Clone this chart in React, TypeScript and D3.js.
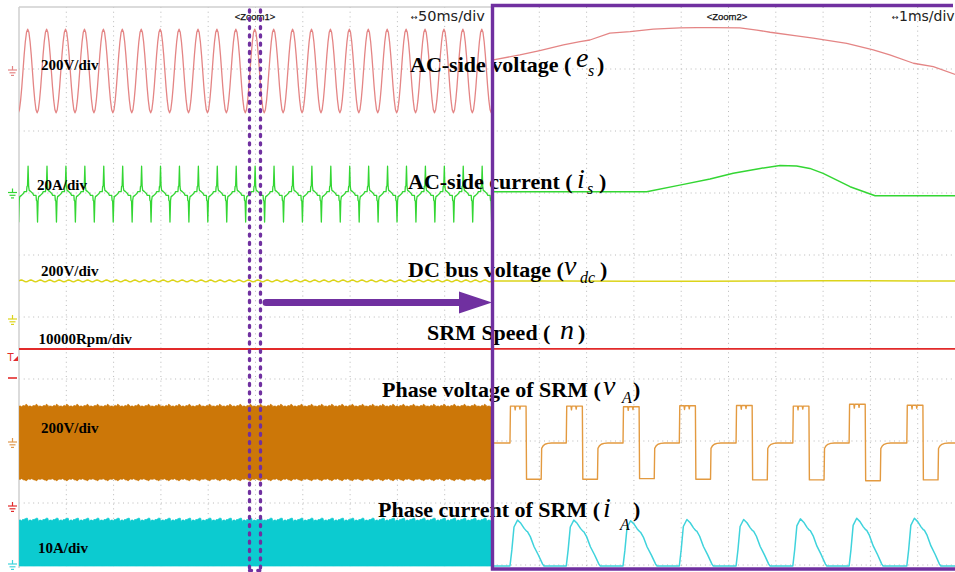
import React from "react";
import * as d3 from "d3";

type Pt = [number, number];

// ---- scope screen geometry ----
const W = 955;
const H = 572;
const DIV_X = 47.3;
const DIV_Y = 62;
const SCREEN_LEFT = 19;
const SCREEN_TOP = 7;
const SPLIT_X = 492;

// ---- main window, 50 ms/div ----
// AC-side voltage e_s, one 20 ms mains cycle from the rising zero crossing (V)
const mainsCycleT = [0, 1.25, 2.5, 3.75, 5, 6.25, 7.5, 8.75, 10, 11.25, 12.5, 13.75, 15, 16.25, 17.5, 18.75];
const acVoltCycle = [0, 52, 95, 125, 135, 125, 95, 52, 0, -52, -95, -125, -135, -125, -95, -52];
// AC-side current i_s over the same cycle (A)
const acCurrCycleT = [0, 1, 3.4, 3.8, 4.4, 5, 5.6, 6.2, 8, 10, 11, 13.4, 13.8, 14.4, 15, 15.6, 16.2, 18];
const acCurrCycle = [0, 0.6, 0.6, 2.2, 2.5, 8.8, 2.2, 1.0, 0.6, 0, -0.6, -0.6, -2.2, -2.5, -9.2, -2.2, -1.0, -0.6];
// DC bus ripple, one 10 ms cycle (V)
const dcRippleT = [0, 1.25, 2.5, 3.75, 5, 6.25, 7.5, 8.75];
const dcRipple = [126, 128, 129, 128, 126, 124, 123, 124];
// SRM speed (rpm)
const speedRpm = 25500;

// ---- zoom window, 1 ms/div ----
const zoomEsT = [0, 0.59, 1.01, 1.51, 1.86, 2.07, 2.49, 2.92, 3.41, 3.97, 4.33, 4.68, 5.24, 5.6, 5.88, 6.44, 6.79, 7.5, 8.06, 8.41, 8.91, 9.33, 9.85];
const zoomEs = [35, 52, 66, 84, 95, 100, 122, 127, 135, 139, 140, 140, 139, 132, 125, 113, 106, 89, 68, 52, 25, 14, -14];
const zoomIsT = [0, 3.27, 3.97, 4.61, 5.1, 5.67, 6.09, 6.44, 6.72, 7.0, 7.57, 8.1, 9.85];
const zoomIs = [0.6, 0.6, 2.7, 4.7, 6.5, 8.1, 9.0, 8.9, 8.1, 6.5, 2.2, -0.7, -0.7];
const zoomVdcT = [0, 1.5, 3, 4.5, 6, 7, 8, 9, 9.85];
const zoomVdc = [126, 126, 125, 125, 126, 127, 127, 126, 126];

// SRM phase A: pulse train
const srmPeriod = 1.197; // ms
const pulseStarts = [0.38, 1.57, 2.77, 3.96, 5.16, 6.36, 7.55, 8.77];
const phaseVoltHigh = [119, 119, 117, 120, 121, 119, 125, 122, 118];
const phaseVoltLow = [-117, -117, -115, -117, -119, -119, -122, -119, -116];
const pulsePeaks = [7.4, 7.4, 7.3, 7.5, 7.5, 7.6, 7.7, 7.7, 7.2];
// v_A after turn-on (ms, fraction of high level (+) / low level (-))
const vAShapeT = [0, 0.01, 0.1, 0.11, 0.12, 0.2, 0.21, 0.22, 0.34, 0.35, 0.66, 0.67, 0.7, 0.74, 0.8, 0.88];
const vAShape = [0, 1, 1, 0.9, 1, 1, 0.92, 1, 1, -1, -1, -0.15, -0.08, -0.035, -0.01, 0];
// i_A after turn-on (ms, fraction of pulse peak)
const iAShapeT = [0, 0.04, 0.085, 0.16, 0.23, 0.3, 0.35, 0.37, 0.43, 0.51, 0.6, 0.69, 0.72];
const iAShape = [0, 0.35, 0.85, 1, 0.93, 0.82, 0.76, 0.75, 0.64, 0.42, 0.24, 0.04, 0];

// channel settings: units per div and the ground marker level on screen
const channels = {
  es: { perDiv: 200, ground: 71, color: "#e48585" },
  is: { perDiv: 20, ground: 193.5, color: "#33d633" },
  vdc: { perDiv: 200, ground: 320, color: "#dcd41a" },
  n: { perDiv: 10000, ground: 507, color: "#e22a2a" },
  vA: { perDiv: 200, ground: 443, color: "#cc7708" },
  iA: { perDiv: 10, ground: 566, color: "#0ccbd0" },
};

// repeat one cycle of read samples over a time span
function tile(offs: number[], vals: number[], period: number, start: number, end: number): Pt[] {
  const pts: Pt[] = [];
  for (let t0 = start; t0 < end; t0 += period) {
    offs.forEach((o, j) => pts.push([t0 + o, vals[j]]));
  }
  return pts;
}

const zip = (t: number[], v: number[]): Pt[] => t.map((d, i) => [d, v[i]]);

function vAValue(i: number, f: number) {
  const k = i % phaseVoltHigh.length;
  return f >= 0 ? f * phaseVoltHigh[k] : -f * phaseVoltLow[k];
}

function GroundMark({ y, color }: { y: number; color: string }) {
  return (
    <g stroke={color} strokeWidth={1.2}>
      <line x1={12.5} x2={12.5} y1={y - 5} y2={y - 1} />
      <line x1={8} x2={17} y1={y - 1} y2={y - 1} />
      <line x1={9.5} x2={15.5} y1={y + 1.8} y2={y + 1.8} />
      <line x1={11} x2={14} y1={y + 4.4} y2={y + 4.4} />
    </g>
  );
}

function Label({ x, y, text, sym, symX, symY, sub, subX, subY, closeX }: any) {
  return (
    <g fill="#000" fontFamily="'Liberation Serif', 'Times New Roman', serif">
      <text x={x} y={y} fontSize={22} fontWeight="bold">{text}</text>
      <text x={symX} y={symY} fontSize={28} fontStyle="italic">{sym}</text>
      {sub && <text x={subX} y={subY} fontSize={16} fontStyle="italic">{sub}</text>}
      <text x={closeX} y={y} fontSize={22} fontWeight="bold">)</text>
    </g>
  );
}

export default function App() {
  const xMain = d3.scaleLinear().domain([0, 500]).range([SCREEN_LEFT, SPLIT_X]);
  const xZoom = d3.scaleLinear().domain([0, 10]).range([SPLIT_X, SPLIT_X + 10 * DIV_X]);
  const yScale = (c: { perDiv: number; ground: number }) =>
    d3.scaleLinear().domain([0, c.perDiv]).range([c.ground, c.ground - DIV_Y]);

  const path = (pts: Pt[], x: d3.ScaleLinear<number, number>, c: any) => {
    const y = yScale(c);
    return d3.line<Pt>().x((d) => x(d[0])).y((d) => y(d[1]))(pts) || "";
  };

  // main window traces
  const mainEs = tile(mainsCycleT, acVoltCycle, 20, 4.2 - 20, 520);
  const mainIs = tile(acCurrCycleT, acCurrCycle, 20, 4.6 - 20, 520);
  const mainVdc = tile(dcRippleT, dcRipple, 10, 0, 510);
  const mainN: Pt[] = [[0, speedRpm], [500, speedRpm]];

  // at 50 ms/div the SRM pulses merge into a band: its envelope, cycle by cycle
  const cycles = d3.range(0, Math.ceil(502 / srmPeriod));
  const envPts = cycles.flatMap((i) => [0.15, 0.55].map((o) => ({ t: i * srmPeriod + o, i })));
  const yVA = yScale(channels.vA);
  const yIA = yScale(channels.iA);
  const vABand = d3.area<{ t: number; i: number }>()
    .x((d) => xMain(d.t))
    .y0((d) => yVA(phaseVoltLow[d.i % phaseVoltLow.length]))
    .y1((d) => yVA(phaseVoltHigh[d.i % phaseVoltHigh.length]))(envPts) || "";
  const iABand = d3.area<{ t: number; i: number }>()
    .x((d) => xMain(d.t))
    .y0(() => yIA(0))
    .y1((d) => yIA(pulsePeaks[d.i % pulsePeaks.length]))(envPts) || "";

  // zoom window traces
  const zEs = zip(zoomEsT, zoomEs);
  const zIs = zip(zoomIsT, zoomIs);
  const zVdc = zip(zoomVdcT, zoomVdc);
  const zN: Pt[] = [[0, speedRpm], [10, speedRpm]];
  const zVA: Pt[] = [[0, 0]];
  const zIA: Pt[] = [[0, 0]];
  pulseStarts.forEach((s, i) => {
    vAShapeT.forEach((o, j) => zVA.push([s + o, vAValue(i, vAShape[j])]));
    iAShapeT.forEach((o, j) => zIA.push([s + o, iAShape[j] * pulsePeaks[i]]));
  });
  zVA.push([10, 0]);
  zIA.push([10, 0]);

  const gridX = d3.range(1, 20).map((k) => SCREEN_LEFT + k * DIV_X);
  const gridY = d3.range(1, 10).map((k) => SCREEN_TOP + k * DIV_Y);
  const purple = "#7030a0";
  const sans = "'DejaVu Sans', sans-serif";
  const serif = "'Liberation Serif', 'Times New Roman', serif";

  return (
    <svg width={W} height={H} style={{ position: "absolute", left: 0, top: 0, background: "#fff" }}>
      <defs>
        <clipPath id="clipMain">
          <rect x={SCREEN_LEFT} y={0} width={SPLIT_X - SCREEN_LEFT} height={H} />
        </clipPath>
        <clipPath id="clipZoom">
          <rect x={SPLIT_X} y={0} width={W - SPLIT_X} height={H} />
        </clipPath>
      </defs>
      <rect width={W} height={H} fill="#fff" />

      {/* grid */}
      <g stroke="#b8b8b8" strokeWidth={1} strokeDasharray="1 3.73">
        {gridX.map((x) => (
          <line key={"gx" + x} x1={x} x2={x} y1={SCREEN_TOP} y2={568} />
        ))}
        {gridY.map((y) => (
          <line key={"gy" + y} x1={SCREEN_LEFT} x2={W} y1={y} y2={y} />
        ))}
      </g>
      <g stroke="#cfcfcf" strokeWidth={1.5} fill="none">
        <line x1={SCREEN_LEFT} x2={SCREEN_LEFT} y1={SCREEN_TOP} y2={568} />
        <line x1={SCREEN_LEFT} x2={SPLIT_X} y1={SCREEN_TOP} y2={SCREEN_TOP} />
      </g>

      {/* ground / trigger markers */}
      <GroundMark y={channels.es.ground} color={channels.es.color} />
      <GroundMark y={channels.is.ground} color={channels.is.color} />
      <GroundMark y={channels.vdc.ground} color={channels.vdc.color} />
      <GroundMark y={channels.vA.ground} color="#e09a50" />
      <GroundMark y={channels.n.ground} color={channels.n.color} />
      <GroundMark y={channels.iA.ground - 1} color="#3fd3dc" />
      <text x={7.5} y={361} fontSize={10} fontFamily={sans} fill="#e22a2a">T</text>
      <path d="M13,361 L18,361 L18,356 Z" fill="#e22a2a" />
      <line x1={8} x2={17} y1={378} y2={378} stroke="#e22a2a" strokeWidth={1.6} />

      {/* main window traces */}
      <g clipPath="url(#clipMain)" fill="none" strokeLinejoin="round">
        <path d={vABand} fill={channels.vA.color} stroke={channels.vA.color} strokeWidth={0.8} />
        <path d={iABand} fill={channels.iA.color} stroke={channels.iA.color} strokeWidth={0.8} />
        <path d={path(mainEs, xMain, channels.es)} stroke={channels.es.color} strokeWidth={1.3} />
        <path d={path(mainIs, xMain, channels.is)} stroke={channels.is.color} strokeWidth={1.3} />
        <path d={path(mainVdc, xMain, channels.vdc)} stroke={channels.vdc.color} strokeWidth={1.5} />
        <path d={path(mainN, xMain, channels.n)} stroke={channels.n.color} strokeWidth={2} />
      </g>

      {/* zoom window traces */}
      <g clipPath="url(#clipZoom)" fill="none" strokeLinejoin="round">
        <path d={path(zEs, xZoom, channels.es)} stroke={channels.es.color} strokeWidth={1.3} />
        <path d={path(zIs, xZoom, channels.is)} stroke={channels.is.color} strokeWidth={1.5} />
        <path d={path(zVdc, xZoom, channels.vdc)} stroke={channels.vdc.color} strokeWidth={1.5} />
        <path d={path(zN, xZoom, channels.n)} stroke={channels.n.color} strokeWidth={1.6} />
        <path d={path(zVA, xZoom, channels.vA)} stroke="#e39a40" strokeWidth={1.4} />
        <path d={path(zIA, xZoom, channels.iA)} stroke="#3fd3dc" strokeWidth={1.5} />
      </g>

      {/* scope annotations */}
      <g fontFamily="'Liberation Sans', Arial, sans-serif" fill="#111">
        <text x={255} y={20} fontSize={9.5} textAnchor="middle" stroke="#111" strokeWidth={0.25}>{"<Zoom1>"}</text>
        <text x={727} y={20} fontSize={9.5} textAnchor="middle" stroke="#111" strokeWidth={0.25}>{"<Zoom2>"}</text>
      </g>
      <g fontFamily={sans} fill="#222">
        <text x={411} y={20} fontSize={8}>↔</text>
        <text x={418} y={21} fontSize={14.5}>50ms/div</text>
        <text x={892} y={20} fontSize={8}>↔</text>
        <text x={899} y={21} fontSize={14}>1ms/div</text>
      </g>

      {/* units per div labels */}
      <g fontFamily={serif} fontWeight="bold" fontSize={15} fill="#000">
        <text x={41} y={70}>200V/div</text>
        <text x={37} y={190}>20A/div</text>
        <text x={41} y={276}>200V/div</text>
        <text x={38.5} y={344}>10000Rpm/div</text>
        <text x={41} y={433}>200V/div</text>
        <text x={38} y={553}>10A/div</text>
      </g>

      {/* signal names */}
      <Label x={410} y={72} text="AC-side voltage (" sym="e" symX={576} symY={67} sub="s" subX={588} subY={76} closeX={597} />
      <Label x={408} y={189} text="AC-side current (" sym="i" symX={577} symY={188} sub="s" subX={587} subY={194} closeX={599} />
      <Label x={408} y={277} text="DC bus voltage (" sym="v" symX={564} symY={275} sub="dc" subX={580} subY={283} closeX={600} />
      <Label x={427} y={340} text="SRM Speed (" sym="n" symX={560} symY={339} closeX={578} />
      <Label x={382} y={397} text="Phase voltage of SRM (" sym="v" symX={603} symY={395} sub="A" subX={622} subY={403} closeX={633} />
      <Label x={378} y={517} text="Phase current of SRM (" sym="i" symX={603} symY={517} sub="A" subX={620} subY={530} closeX={633} />

      {/* zoom markers */}
      <g stroke={purple} strokeWidth={3.3} strokeDasharray="2 6.3" strokeLinecap="round" fill="none">
        <line x1={249.5} x2={249.5} y1={10} y2={570} />
        <line x1={260.5} x2={260.5} y1={10} y2={570} />
        <line x1={249.5} x2={260.5} y1={570.5} y2={570.5} />
      </g>
      <line x1={266} x2={462} y1={302.5} y2={302.5} stroke={purple} strokeWidth={7} strokeLinecap="round" />
      <path d="M459,291.5 L492,302.5 L459,313.5 Z" fill={purple} />
      <path d={`M953,5.5 L${SPLIT_X + 0.5},5.5 L${SPLIT_X + 0.5},569 L955,569`} fill="none" stroke={purple} strokeWidth={3.4} />
    </svg>
  );
}
